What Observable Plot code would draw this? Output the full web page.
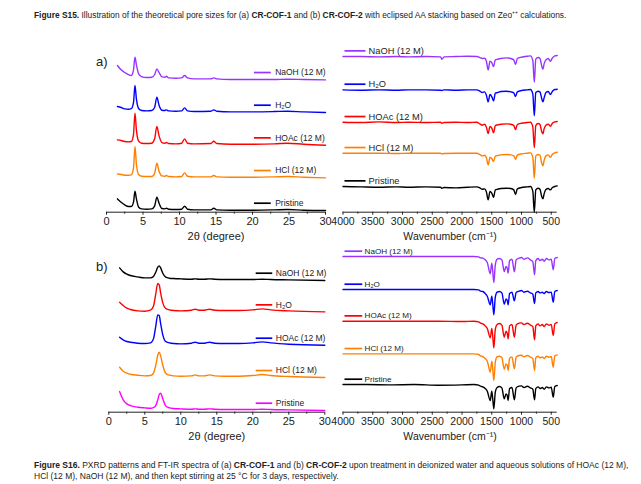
<!DOCTYPE html>
<html><head><meta charset="utf-8">
<script src="https://cdn.jsdelivr.net/npm/d3@7"></script>
<script src="https://cdn.jsdelivr.net/npm/@observablehq/plot@0.6"></script>
<style>
body{margin:0;background:#fff;}
#page{position:relative;width:641px;height:484px;background:#fff;font-family:"Liberation Sans",Arial,sans-serif;color:#222;overflow:hidden}
.cap{position:absolute;left:34px;font-size:8.4px;white-space:nowrap;line-height:9px}
.cap sup{font-size:5px;vertical-align:4px;line-height:0}
.tag{position:absolute;font-size:13px;color:#222;line-height:13px}
.panel{position:absolute}
</style></head><body><div id="page">
<div class="cap" style="top:11px"><b>Figure S15.</b> Illustration of the theoretical pore sizes for (a) <b>CR-COF-1</b> and (b) <b>CR-COF-2</b> with eclipsed AA stacking based on Zeo<sup>++</sup> calculations.</div>
<div class="tag" style="left:96px;top:55px">a)</div>
<div class="tag" style="left:96px;top:260px">b)</div>
<div class="cap" style="top:461px;font-size:8.5px"><b>Figure S16.</b> PXRD patterns and FT-IR spectra of (a) <b>CR-COF-1</b> and (b) <b>CR-COF-2</b> upon treatment in deionized water and aqueous solutions of HOAc (12 M),</div>
<div class="cap" style="top:472px;font-size:8.5px">HCl (12 M), NaOH (12 M), and then kept stirring at 25 °C for 3 days, respectively.</div>
</div>
<script>
// ---------- data ----------
const SERIES = ["Pristine", "HCl (12 M)", "HOAc (12 M)", "H₂O", "NaOH (12 M)"];
const COLORS_STD = ["#000000", "#ff8000", "#ff0000", "#0000ff", "#9933ff"];
const COLORS_XRD_B = ["#ff00ff", "#ff8000", "#0000ff", "#ff0000", "#000000"];

const XRD_TICKS = [0, 5, 10, 15, 20, 25, 30];
const XRD_MINOR = [2.5, 7.5, 12.5, 17.5, 22.5, 27.5];
const IR_TICKS = [4000, 3500, 3000, 2500, 2000, 1500, 1000, 500];
const IR_MINOR = [3750, 3250, 2750, 2250, 1750, 1250, 750];

// PXRD (a) CR-COF-1 : 2θ and intensity above each trace's baseline (a.u.)
const xrdA_theta = [1.5, 2, 2.5, 3, 3.4, 3.7, 3.9, 4.1, 4.4, 4.8, 5.5, 6.2, 6.6, 6.9, 7.2, 7.6, 8.0, 8.2, 8.5, 9.5, 10.3, 10.7, 11.1, 12, 14.3, 14.7, 15.1, 17, 20, 23, 24.8, 27, 30];
const xrdA_pristine = [35, 25, 17, 12, 12, 25, 58, 35, 10, 5, 4, 5, 14, 40, 22, 6, 5, 7, 4, 3, 4, 13, 4, 2, 2, 7, 2, 1, 1, 2, 3, 1, 0];
const xrdA_hcl      = [12, 10, 8, 8, 9, 30, 94, 40, 10, 5, 4, 4, 14, 44, 20, 6, 5, 7, 4, 3, 4, 15, 5, 3, 3, 7, 3, 2, 2, 3, 4, 2, 0];
const xrdA_hoac     = [16, 14, 11, 10, 11, 32, 96, 45, 12, 6, 5, 6, 20, 56, 28, 8, 6, 8, 5, 4, 6, 19, 6, 4, 5, 12, 5, 3, 3, 4, 6, 3, 0];
const xrdA_h2o      = [18, 15, 11, 10, 12, 30, 81, 40, 12, 6, 5, 6, 16, 46, 22, 7, 6, 8, 5, 4, 5, 14, 5, 3, 4, 8, 4, 2, 2, 3, 4, 2, 0];
const xrdA_naoh     = [43, 30, 22, 16, 13, 30, 68, 45, 18, 10, 7, 8, 16, 33, 22, 9, 8, 11, 6, 5, 6, 13, 6, 3, 3, 6, 3, 1, 1, 1, 2, 1, 0];
const xrdA_offsets  = [5, 103, 201, 299, 397];

// PXRD (b) CR-COF-2
const xrdB_theta = [1.5, 2, 2.5, 3, 4, 5, 5.8, 6.2, 6.5, 6.8, 7.0, 7.2, 7.5, 7.9, 8.4, 9, 10, 11.5, 12, 12.5, 13.3, 14, 14.7, 16, 18, 20, 21.3, 22.5, 25, 30];
const xrdB_pristine = [57, 32, 20, 15, 10, 8, 7, 9, 14, 32, 48, 52, 35, 14, 8, 6, 5, 4, 5, 4, 4, 5, 4, 3, 3, 3, 4, 3, 2, 0];
const xrdB_hcl      = [32, 20, 14, 11, 8, 6, 7, 14, 35, 68, 77, 66, 38, 14, 8, 6, 5, 6, 9, 6, 6, 9, 6, 5, 5, 7, 10, 7, 4, 1];
const xrdB_hoac     = [25, 17, 12, 10, 7, 6, 8, 20, 55, 92, 90, 66, 32, 12, 8, 6, 5, 7, 10, 7, 7, 10, 7, 6, 6, 8, 11, 8, 4, 1];
const xrdB_h2o      = [30, 20, 12, 8, 4, 3, 6, 18, 52, 86, 82, 58, 28, 11, 7, 5, 4, 6, 9, 6, 6, 9, 6, 5, 5, 7, 10, 7, 4, 1];
const xrdB_naoh     = [38, 26, 19, 15, 11, 8, 8, 12, 24, 40, 44, 38, 22, 10, 7, 6, 5, 4, 5, 4, 4, 5, 4, 3, 3, 3, 4, 3, 2, 0];
const xrdB_offsets  = [5, 103, 200, 300, 395];

// FT-IR (a) CR-COF-1 : wavenumber and absorption depth below each trace's baseline
const irA_wn = [4000, 3700, 3400, 3100, 2900, 2600, 2360, 2340, 2300, 2100, 1900, 1750, 1700, 1660, 1620, 1590, 1560, 1530, 1500, 1470, 1440, 1400, 1350, 1250, 1180, 1130, 1100, 1070, 1000, 900, 850, 810, 785, 760, 720, 690, 660, 640, 620, 590, 550, 515, 480, 440, 400];
const irA_pristine = [0, 1, 2, 1, 2, 1, 2, 5, 3, 4, 2, 1, 4, 8, 7, 16, 40, 15, 20, 32, 10, 8, 6, 5, 6, 10, 24, 7, 3, 1, 0, 14, 77, 10, 5, 8, 30, 37, 22, 9, 6, 10, 3, 0, -2];
const irA_hcl      = [0, 0, 0, 1, 0, 0, 0, 2, 1, 0, 0, 0, 4, 8, 6, 14, 35, 12, 16, 25, 9, 7, 5, 4, 5, 8, 18, 6, 2, 0, -1, 12, 75, 8, 4, 6, 30, 38, 22, 8, 5, 12, 3, -1, -3];
const irA_hoac     = [0, 1, -1, 1, 0, 1, 0, 3, 1, 0, 1, 0, 5, 9, 6, 15, 34, 13, 18, 32, 10, 8, 6, 5, 6, 10, 22, 7, 3, 1, 0, 14, 77, 10, 4, 7, 28, 35, 20, 9, 6, 12, 3, -1, -2];
const irA_h2o      = [0, 1, 0, 1, 0, 0, 1, 2, 0, 1, 0, 0, 4, 8, 6, 16, 36, 14, 20, 33, 10, 8, 5, 4, 6, 9, 20, 6, 2, 0, -1, 12, 78, 8, 4, 6, 26, 36, 24, 8, 5, 14, 4, -1, -2];
const irA_naoh     = [0, 0, 1, 0, 1, 0, 1, 8, 1, 0, -1, 0, 3, 6, 5, 14, 40, 14, 18, 30, 10, 8, 6, 4, 6, 10, 24, 6, 2, -1, -2, 12, 77, 8, 3, 6, 28, 38, 22, 10, 6, 14, 4, -2, -3];
const irA_offsets  = [77, 177, 270, 367, 467];

// FT-IR (b) CR-COF-2
const irB_wn = [4000, 3600, 3200, 2800, 2400, 2000, 1800, 1720, 1690, 1650, 1610, 1575, 1525, 1500, 1485, 1465, 1440, 1410, 1370, 1330, 1290, 1260, 1240, 1225, 1200, 1160, 1120, 1090, 1040, 1000, 960, 900, 850, 810, 781, 760, 720, 690, 650, 620, 580, 540, 500, 467, 440, 400];
const irB_pristine = [0, 0, 1, 0, 2, 1, 0, 2, 5, 7, 12, 20, 48, 20, 40, 73, 22, 9, 6, 10, 43, 28, 32, 48, 12, 9, 46, 10, 5, 4, 9, 5, 10, 14, 46, 12, 7, 12, 9, 14, 7, 10, 8, 38, 6, 3];
const irB_hcl      = [0, 0, 0, 0, 0, 0, 0, 2, 6, 8, 14, 22, 55, 22, 42, 80, 24, 9, 7, 11, 46, 30, 34, 50, 13, 9, 45, 10, 5, 4, 9, 5, 10, 14, 50, 12, 7, 12, 9, 14, 7, 10, 8, 40, 6, 3];
const irB_hoac     = [0, 0, 0, 0, 0, 1, 0, 2, 6, 8, 14, 22, 50, 22, 42, 80, 24, 10, 7, 12, 48, 30, 36, 53, 14, 10, 48, 12, 6, 5, 10, 6, 12, 16, 56, 14, 8, 14, 10, 16, 8, 12, 10, 43, 8, 4];
const irB_h2o      = [0, 0, 0, 0, 0, 0, 0, 1, 5, 6, 12, 20, 46, 20, 40, 76, 22, 8, 6, 10, 44, 28, 32, 46, 12, 8, 34, 9, 5, 3, 8, 5, 10, 14, 42, 10, 6, 10, 8, 12, 6, 9, 8, 38, 6, 3];
const irB_naoh     = [0, 0, 0, 0, 0, 0, 0, 1, 4, 5, 10, 18, 52, 20, 40, 78, 25, 8, 6, 10, 45, 30, 35, 50, 12, 8, 46, 10, 5, 3, 8, 4, 10, 15, 55, 12, 6, 12, 8, 14, 6, 10, 8, 40, 6, 3];
const irB_offsets  = [83, 175, 273, 368, 467];

// ---------- drawing ----------
const FONT = "Liberation Sans, Arial, sans-serif";
function drawPanel(cfg) {
  const marks = [Plot.ruleY([0], {stroke: "#222", strokeWidth: 1})];
  cfg.ys.forEach((vals, i) => {
    const rows = cfg.xs.map((x, j) => ({x, y: cfg.offsets[i] + cfg.sign * vals[j]}));
    marks.push(Plot.line(rows, {x: "x", y: "y", stroke: cfg.colors[i], strokeWidth: 1.4, curve: "monotone-x"}));
    const leg = [{x1: cfg.legX[0], x2: cfg.legX[1], tx: cfg.legX[2], y: cfg.offsets[i] + cfg.legDy, name: SERIES[i]}];
    marks.push(Plot.link(leg, {x1: "x1", x2: "x2", y1: "y", y2: "y", stroke: cfg.colors[i], strokeWidth: 1.7}));
    marks.push(Plot.text(leg, {x: "tx", y: "y", text: "name", textAnchor: "start", fontSize: cfg.legFont, fill: "#222"}));
  });
  marks.push(Plot.axisX({ticks: cfg.ticks, tickSize: 3, tickPadding: 2, tickFormat: d => String(d),
    label: cfg.xlabel, labelAnchor: "center", labelOffset: 28, labelArrow: "none", fontSize: cfg.tickFont}));
  marks.push(Plot.axisX({ticks: cfg.minor, tickSize: 2, tickFormat: () => "", label: null}));
  const svg = Plot.plot({
    width: cfg.width, height: 205,
    marginLeft: cfg.mLeft, marginRight: cfg.mRight, marginTop: 6.7, marginBottom: 33.3,
    style: {background: "transparent", fontFamily: FONT, fontSize: "11px", color: "#222", overflow: "visible"},
    x: {domain: cfg.xDomain},
    y: {domain: [0, 495], axis: null},
    marks
  });
  svg.classList.add("panel");
  svg.style.left = cfg.left + "px";
  svg.style.top = cfg.top + "px";
  document.getElementById("page").appendChild(svg);
}

drawPanel({left: 90, top: 40, width: 250, mLeft: 16, mRight: 15, xDomain: [0, 30],
  xs: xrdA_theta, ys: [xrdA_pristine, xrdA_hcl, xrdA_hoac, xrdA_h2o, xrdA_naoh], offsets: xrdA_offsets,
  colors: COLORS_STD, sign: 1, ticks: XRD_TICKS, minor: XRD_MINOR, xlabel: "2θ (degree)",
  legX: [20.2, 22.5, 23.1], legDy: 22, legFont: 8.5, tickFont: 11});
drawPanel({left: 92, top: 240, width: 250, mLeft: 16.3, mRight: 17.7, xDomain: [0, 30],
  xs: xrdB_theta, ys: [xrdB_pristine, xrdB_hcl, xrdB_hoac, xrdB_h2o, xrdB_naoh], offsets: xrdB_offsets,
  colors: COLORS_XRD_B, sign: 1, ticks: XRD_TICKS, minor: XRD_MINOR, xlabel: "2θ (degree)",
  legX: [20.4, 22.7, 23.2], legDy: 22, legFont: 8.5, tickFont: 11});
drawPanel({left: 330, top: 40, width: 240, mLeft: 12.5, mRight: 13.3, xDomain: [4000, 400],
  xs: irA_wn, ys: [irA_pristine, irA_hcl, irA_hoac, irA_h2o, irA_naoh], offsets: irA_offsets,
  colors: COLORS_STD, sign: -1, ticks: IR_TICKS, minor: IR_MINOR, xlabel: "Wavenumber (cm⁻¹)",
  legX: [3975, 3622, 3571], legDy: 17, legFont: 9.3, tickFont: 10.5});
drawPanel({left: 330, top: 240, width: 240, mLeft: 12.5, mRight: 13.3, xDomain: [4000, 400],
  xs: irB_wn, ys: [irB_pristine, irB_hcl, irB_hoac, irB_h2o, irB_naoh], offsets: irB_offsets,
  colors: COLORS_STD, sign: -1, ticks: IR_TICKS, minor: IR_MINOR, xlabel: "Wavenumber (cm⁻¹)",
  legX: [3975, 3677, 3638], legDy: 16, legFont: 8.1, tickFont: 10.5});
</script>
</body></html>
